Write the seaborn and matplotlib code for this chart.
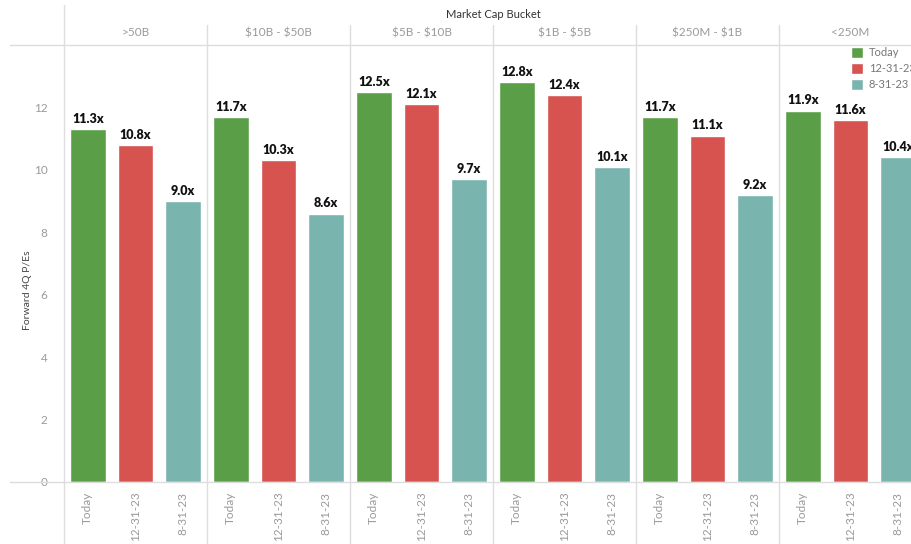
import pandas as pd
import matplotlib.pyplot as plt
import seaborn as sns
from matplotlib.patches import Patch
from matplotlib.lines import Line2D

# data
buckets = [">50B", "$10B - $50B", "$5B - $10B", "$1B - $5B", "$250M - $1B", "<250M"]
periods = ["Today", "12-31-23", "8-31-23"]
today = [11.3, 11.7, 12.5, 12.8, 11.7, 11.9]
dec_23 = [10.8, 10.3, 12.1, 12.4, 11.1, 11.6]
aug_23 = [9.0, 8.6, 9.7, 10.1, 9.2, 10.4]
yticks = [0, 2, 4, 6, 8, 10, 12]

colors = {"Today": "#5A9E48", "12-31-23": "#D65350", "8-31-23": "#7AB4AF"}

rows = []
for i, b in enumerate(buckets):
    for p, vals in zip(periods, [today, dec_23, aug_23]):
        rows.append({"bucket": b, "period": p, "pe": vals[i]})
df = pd.DataFrame(rows)

sns.set_style("white")
plt.rcParams["font.family"] = ["Lato", "DejaVu Sans"]
plt.rcParams["text.parse_math"] = False

W, H = 911, 544
fig = plt.figure(figsize=(W / 100, H / 100), dpi=100)

left, pw, base, top = 64, 143, 482, 45
grey = "#9a9a9a"
line_c = "#dddddd"

for i, b in enumerate(buckets):
    ax = fig.add_axes([(left + i * pw) / W, (H - base) / H, pw / W, (base - top) / H])
    sub = df[df["bucket"] == b]
    sns.barplot(data=sub, x="period", y="pe", hue="period", order=periods,
                hue_order=periods, palette=colors, width=0.75, legend=False,
                saturation=1, ax=ax)
    ax.set_ylim(0, 14)
    ax.set_xlim(-0.5, 2.5)
    ax.set_xlabel("")
    ax.set_ylabel("")
    for s in ax.spines.values():
        s.set_visible(False)
    ax.set_xticks(range(len(periods)))
    ax.set_xticklabels(periods, rotation=90, color=grey, fontsize=8.5)
    ax.tick_params(axis="x", length=0, pad=7)
    ax.set_yticks(yticks)
    if i == 0:
        ax.tick_params(axis="y", length=0, pad=12, labelcolor=grey, labelsize=8.5)
    else:
        ax.tick_params(axis="y", length=0, labelleft=False)
    for c in ax.containers:
        ax.bar_label(c, fmt="%.1fx", padding=3, fontsize=9, fontweight="heavy", color="#111111")
    fig.text((left + i * pw + pw / 2) / W, 1 - 33 / H, b, ha="center", va="center",
             fontsize=8.5, color=grey)

# panel frame lines
fig.add_artist(Line2D([10 / W, 1], [1 - top / H] * 2, color=line_c, lw=1))
fig.add_artist(Line2D([10 / W, 1], [1 - base / H] * 2, color=line_c, lw=1))
fig.add_artist(Line2D([left / W] * 2, [0, 1 - 5 / H], color=line_c, lw=1))
for i in range(1, 6):
    x = (left + i * pw) / W
    fig.add_artist(Line2D([x, x], [0, 1 - 25 / H], color=line_c, lw=1))

fig.text((left + 3 * pw) / W, 1 - 15 / H, "Market Cap Bucket", ha="center", va="center",
         fontsize=8, color="#333333")
fig.text(28 / W, 1 - 290 / H, "Forward 4Q P/Es", rotation=90, ha="center", va="center",
         fontsize=7.5, color="#444444")

handles = [Patch(facecolor=colors[p], label=p) for p in periods]
leg = fig.legend(handles=handles, loc="upper left", bbox_to_anchor=(851 / W, 1 - 47 / H),
                 frameon=False, fontsize=8, handlelength=1.1, handleheight=1.1,
                 handletextpad=0.5, labelspacing=0.45, borderaxespad=0, borderpad=0)
for t in leg.get_texts():
    t.set_color("#777777")

fig.savefig("out.png", dpi=100)
